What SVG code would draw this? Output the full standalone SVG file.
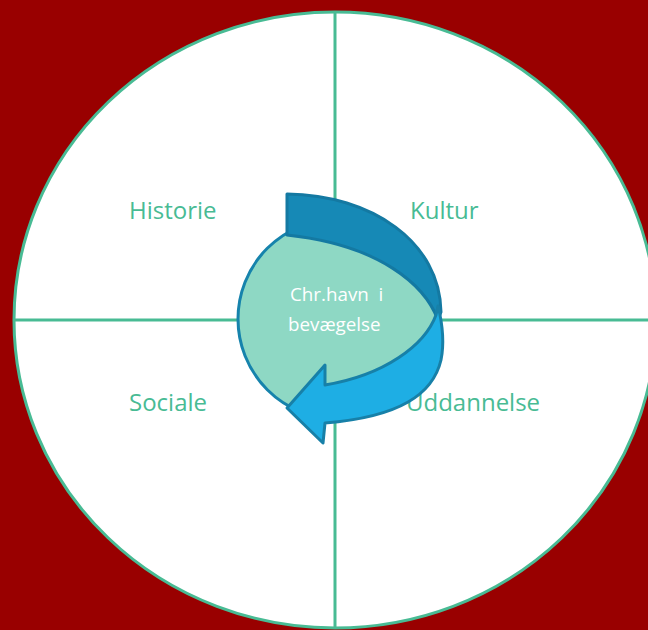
<svg xmlns="http://www.w3.org/2000/svg" width="648" height="630" viewBox="0 0 648 630">
<style>
.lbl{font-family:"Open Sans","Liberation Sans",sans-serif;font-size:24px;fill:#48BB94}
.ctr{font-family:"Open Sans","Liberation Sans",sans-serif;font-size:18.8px;fill:#FFFFFF;white-space:pre}
.div{stroke:#48BB94;stroke-width:3;fill:none}
</style>
<rect x="0" y="0" width="648" height="630" fill="#990000"/>
<g id="wheel">
<ellipse cx="335" cy="320" rx="321" ry="308" fill="#FFFFFF" stroke="#48BB94" stroke-width="3"/>
</g>
<g id="connectors">
<line class="div" x1="335" y1="12" x2="335" y2="628"/>
<line class="div" x1="14" y1="320" x2="648" y2="320"/>
</g>
<g id="historie"><text class="lbl" x="129" y="219">Historie</text></g>
<g id="kultur"><text class="lbl" x="410" y="219">Kultur</text></g>
<g id="sociale"><text class="lbl" x="129" y="411">Sociale</text></g>
<g id="uddannelse"><text class="lbl" x="406" y="411">Uddannelse</text></g>
<g id="center">
<circle cx="338" cy="319" r="100" fill="#8ED8C4" stroke="#1683AC" stroke-width="3"/>
<path d="M287,194 C372,195 440,242 441,312 L438,320 C425,285 380,245 287,235 Z" fill="#1689B6" stroke="#1479A2" stroke-width="3" stroke-linejoin="round"/>
<path d="M438,306 C444,330 444,345 441,360 C433,394 400,417 325,423 L323,443 L287,408 L325,365 L325,385 C385,375 425,345 436,315 Z" fill="#1EAEE4" stroke="#1780A8" stroke-width="3" stroke-linejoin="round"/>
<text class="ctr" x="290" y="301" xml:space="preserve">Chr.havn  i</text>
<text class="ctr" x="288" y="331">bevægelse</text>
</g>
</svg>
